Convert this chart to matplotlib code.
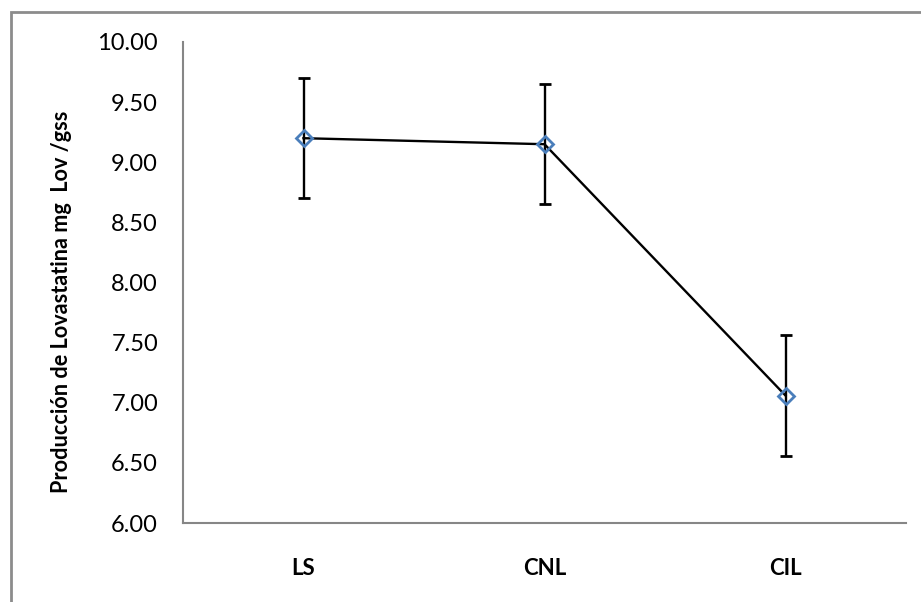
import matplotlib.pyplot as plt
from matplotlib.patches import Rectangle

plt.rcParams['font.family'] = ['Lato', 'DejaVu Sans']

groups = ['LS', 'CNL', 'CIL']
lovastatina = [9.20, 9.15, 7.06]
error = [0.5, 0.5, 0.5]
yticks = [6.0, 6.5, 7.0, 7.5, 8.0, 8.5, 9.0, 9.5, 10.0]

W, H = 921, 602
fig = plt.figure(figsize=(W / 100, H / 100), dpi=100)

# outer chart frame (only left/top edges fall inside the canvas)
fig.patches.append(Rectangle((10.5 / W, -0.1), 1.2, (H - 11.5) / H + 0.1,
                             transform=fig.transFigure, fill=False,
                             ec='#8c8c8c', lw=2.0))

ax = fig.add_axes([183 / W, (H - 523) / H, (906 - 183) / W, (523 - 42) / H])
x = range(len(groups))
ax.errorbar(x, lovastatina, yerr=error, color='black', lw=1.7,
            ecolor='black', elinewidth=1.7, capsize=4.5, capthick=1.7,
            marker='D', ms=8, mfc='none', mec='#4a7ebb', mew=2, zorder=3)

ax.set_xlim(-0.5, len(groups) - 0.5)
ax.set_ylim(6, 10)
ax.set_yticks(yticks)
ax.set_yticklabels([f'{v:.2f}' for v in yticks], fontsize=17)
ax.set_xticks(list(x))
ax.set_xticklabels(groups, fontsize=16, fontweight='bold')
ax.tick_params(axis='y', length=0, pad=18)
ax.tick_params(axis='x', length=0, pad=25)

for side in ['top', 'right']:
    ax.spines[side].set_visible(False)
for side in ['left', 'bottom']:
    ax.spines[side].set_color('#868686')
    ax.spines[side].set_linewidth(1.5)

fig.text(62 / W, 1 - 302 / H, 'Producción de Lovastatina mg  Lov /gss',
         rotation=90, ha='center', va='center', fontsize=15.6, fontweight='bold')

fig.savefig('out.png', dpi=100)
